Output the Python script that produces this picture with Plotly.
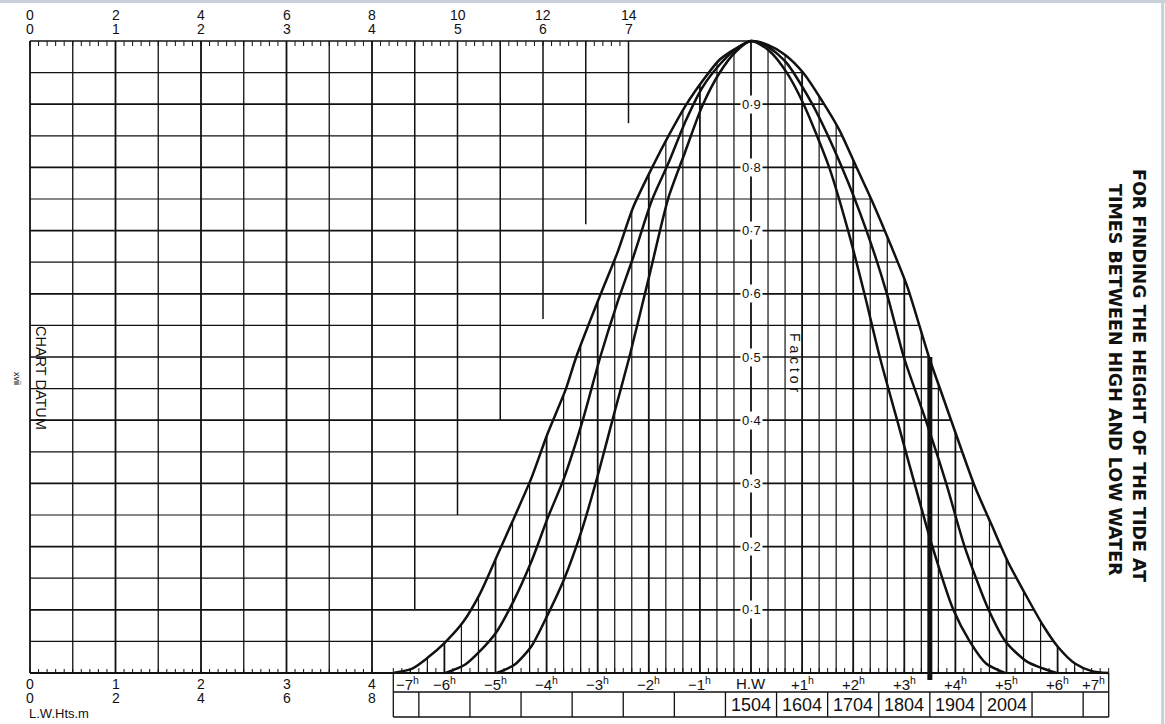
import numpy as np
import plotly.graph_objects as go

# ---------------- data ----------------
HW_HTS_ROW1 = [0, 2, 4, 6, 8, 10, 12, 14]
HW_HTS_ROW2 = [0, 1, 2, 3, 4, 5, 6, 7]
LW_HTS_ROW1 = [0, 1, 2, 3, 4]
LW_HTS_ROW2 = [0, 2, 4, 6, 8]
HOURS = [-7, -6, -5, -4, -3, -2, -1, 0, 1, 2, 3, 4, 5, 6, 7]
HOUR_LABELS = ["−7<sup>h</sup>", "−6<sup>h</sup>", "−5<sup>h</sup>", "−4<sup>h</sup>",
               "−3<sup>h</sup>", "−2<sup>h</sup>", "−1<sup>h</sup>", "H.W",
               "+1<sup>h</sup>", "+2<sup>h</sup>", "+3<sup>h</sup>", "+4<sup>h</sup>",
               "+5<sup>h</sup>", "+6<sup>h</sup>", "+7<sup>h</sup>"]
FACTOR_LEVELS = [0.1, 0.2, 0.3, 0.4, 0.5, 0.6, 0.7, 0.8, 0.9]
FACTOR_LABELS = ["0·1", "0·2", "0·3", "0·4", "0·5", "0·6", "0·7", "0·8", "0·9"]
TABLE_HOURS = [0, 1, 2, 3, 4, 5]
TABLE_TIMES = ["1504", "1604", "1704", "1804", "1904", "2004"]

# partial height-scale lines (height unit, factor where the line stops)
STAIR_U = [4.5, 5.0, 5.5, 6.0, 6.5, 7.0]
STAIR_F = [0.10, 0.25, 0.40, 0.56, 0.71, 0.87]

# tidal curves: time from HW (hours) and factor
CURVE7_T = [-7.00, -6.63, -6.33, -5.98, -5.63, -5.30, -4.96, -4.64, -4.30, -3.98, -3.62,
            -3.42, -2.95, -2.62, -2.30, -1.94, -1.62, -1.27, -0.91, -0.62, -0.30, 0.00,
            0.33, 0.67, 1.03, 1.40, 1.73, 2.06, 2.39, 2.72, 3.06, 3.49, 3.72, 4.05,
            4.38, 4.71, 5.04, 5.38, 5.71, 6.00, 6.34, 6.67, 7.00]
CURVE7_F = [0.000, 0.007, 0.024, 0.049, 0.081, 0.126, 0.187, 0.245, 0.308, 0.379, 0.450,
            0.500, 0.598, 0.664, 0.738, 0.799, 0.849, 0.899, 0.941, 0.970, 0.988, 1.000,
            0.994, 0.978, 0.949, 0.904, 0.859, 0.801, 0.743, 0.680, 0.611, 0.498, 0.445,
            0.369, 0.295, 0.234, 0.174, 0.123, 0.076, 0.042, 0.015, 0.003, 0.000]

CURVE6_T = [-5.98, -5.60, -5.30, -4.98, -4.64, -4.30, -3.98, -3.66, -3.30, -2.95, -2.62,
            -2.30, -1.94, -1.62, -1.27, -0.94, -0.62, -0.36, 0.00, 0.35, 0.70, 1.20,
            1.78, 2.26, 2.66, 2.99, 3.42, 3.82, 4.18, 4.65, 4.98, 5.40, 5.98]
CURVE6_F = [0.000, 0.013, 0.035, 0.065, 0.115, 0.176, 0.245, 0.308, 0.398, 0.500, 0.585,
            0.659, 0.748, 0.806, 0.875, 0.928, 0.962, 0.983, 1.000, 0.990, 0.965, 0.900,
            0.800, 0.700, 0.600, 0.500, 0.400, 0.300, 0.200, 0.100, 0.050, 0.018, 0.000]

CURVE5_T = [-4.98, -4.63, -4.30, -3.98, -3.66, -3.30, -2.98, -2.66, -2.38, -1.98, -1.62,
            -1.30, -0.96, -0.62, -0.30, 0.00, 0.35, 0.70, 1.03, 1.53, 1.90, 2.22, 2.52,
            2.86, 3.20, 3.55, 3.96, 4.28, 4.60, 4.97]
CURVE5_F = [0.000, 0.013, 0.042, 0.092, 0.148, 0.229, 0.318, 0.416, 0.500, 0.632, 0.751,
            0.822, 0.896, 0.949, 0.983, 1.000, 0.985, 0.950, 0.900, 0.800, 0.700, 0.600,
            0.500, 0.400, 0.300, 0.200, 0.100, 0.050, 0.015, 0.000]

MARK_T = 3.5
MARK_F = 0.5

# ---------------- layout geometry ----------------
FIG_W, FIG_H = 1165, 724
U_ORIGIN_PX, U_UNIT_PX = 30.0, 85.5      # height scale
T_ORIGIN_PX, T_UNIT_PX = 751.0, 51.1     # time scale
F0_PX, F1_PX = 673.0, 41.0               # factor scale


def fy(px):
    return (F0_PX - px) / (F0_PX - F1_PX)


def u2t(u):
    return (U_ORIGIN_PX + u * U_UNIT_PX - T_ORIGIN_PX) / T_UNIT_PX


def px2t(px):
    return (px - T_ORIGIN_PX) / T_UNIT_PX


INK = "#111111"
FONT = "Liberation Sans, Arial, Helvetica, sans-serif"
TITLE_FONT = "DejaVu Sans, Liberation Sans, Arial, sans-serif"


def seg_trace(segs, axis, width, color=INK):
    xs, ys = [], []
    for (x0, x1), (y0, y1) in segs:
        xs += [x0, x1, None]
        ys += [y0, y1, None]
    return go.Scatter(x=xs, y=ys, xaxis=axis, yaxis="y", mode="lines",
                      line=dict(color=color, width=width),
                      hoverinfo="skip", showlegend=False)


fig = go.Figure()

# right side of outer curve (for the end of horizontal lines)
i0 = CURVE7_T.index(0.0)
tr = np.array(CURVE7_T[i0:])
fr = np.array(CURVE7_F[i0:])


def t_right(f):
    return float(np.interp(f, fr[::-1], tr[::-1]))


# horizontal factor lines
major_h, minor_h = [], []
for k in range(1, 21):
    f = round(k * 0.05, 2)
    seg = ((u2t(0), t_right(f)), (f, f))
    (major_h if k % 2 == 0 else minor_h).append(seg)
fig.add_trace(seg_trace(minor_h, "x2", 1.2))
fig.add_trace(seg_trace(major_h, "x2", 1.7))
fig.add_trace(seg_trace([((u2t(0), 7), (0, 0))], "x2", 1.9))

# height-scale verticals
full_major, full_minor = [], []
for k in range(0, 9):
    u = k * 0.5
    seg = ((u, u), (0, 1))
    (full_major if k % 2 == 0 else full_minor).append(seg)
fig.add_trace(seg_trace(full_minor, "x", 1.3))
fig.add_trace(seg_trace(full_major, "x", 1.8))
stair = [((u, u), (fe, 1)) for u, fe in zip(STAIR_U, STAIR_F)]
fig.add_trace(seg_trace(stair, "x", 1.5))

# ticks on height scales
top_ticks = [((k / 10, k / 10), (1, 1 - 5 / (F0_PX - F1_PX))) for k in range(0, 71)]
bot_ticks = [((k / 10, k / 10), (0, 4 / (F0_PX - F1_PX))) for k in range(0, 41)]
fig.add_trace(seg_trace(top_ticks, "x", 1.0))
fig.add_trace(seg_trace(bot_ticks, "x", 1.0))

# time verticals (every 20 min) up to outer curve
t_major, t_minor = [], []
for k in range(0, 43):
    t = -7 + k / 3
    fe = float(np.interp(t, CURVE7_T, CURVE7_F))
    seg = ((t, t), (0, fe))
    (t_major if k % 3 == 0 else t_minor).append(seg)
fig.add_trace(seg_trace(t_minor, "x2", 1.2))
fig.add_trace(seg_trace(t_major, "x2", 1.8))
time_ticks = [((-7 + k / 6, -7 + k / 6), (0, 5 / (F0_PX - F1_PX))) for k in range(0, 85)]
fig.add_trace(seg_trace(time_ticks, "x2", 1.0))

# table under the time axis
row_top, row_bot = fy(692), fy(717)
table = [((-7, 7), (row_top, row_top)), ((-7, 7), (row_bot, row_bot)),
         ((-7, -7), (0, row_bot)), ((7, 7), (0, row_bot))]
table += [((h + 0.5, h + 0.5), (row_top, row_bot)) for h in HOURS[:-1]]
fig.add_trace(seg_trace(table, "x2", 1.3))

# curves
for ct, cf in ((CURVE7_T, CURVE7_F), (CURVE6_T, CURVE6_F), (CURVE5_T, CURVE5_F)):
    fig.add_trace(go.Scatter(x=ct, y=cf, xaxis="x2", yaxis="y", mode="lines",
                             line=dict(color=INK, width=2.5, shape="spline", smoothing=0.7),
                             hoverinfo="skip", showlegend=False))

# thick marker bar
fig.add_trace(seg_trace([((MARK_T, MARK_T), (fy(680), MARK_F))], "x2", 5))

# ---------------- text ----------------
ann = []


def label(x, y, text, size, **kw):
    d = dict(x=x, y=y, xref="x2", yref="y", text=text, showarrow=False,
             font=dict(size=size, color=INK, family=kw.pop("family", FONT)))
    d.update(kw)
    ann.append(d)


for a, b in zip(HW_HTS_ROW1, HW_HTS_ROW2):
    label(u2t(b), fy(15), str(a), 14)
    label(u2t(b), fy(29), str(b), 14)
for a, b in zip(LW_HTS_ROW1, LW_HTS_ROW2):
    label(u2t(a), fy(684), str(a), 14)
    label(u2t(a), fy(698), str(b), 14)
label(u2t(-0.04), fy(713), "L.W.Hts.m", 13, xanchor="left")
label(u2t(0), fy(-3), "H.W.Hts.m", 13, xanchor="left")

for h, lab in zip(HOURS, HOUR_LABELS):
    anchor, xs = "center", 0
    if h == HOURS[0]:
        anchor, xs = "left", 1
    elif h == HOURS[-1]:
        anchor, xs = "right", -2
    label(h, fy(683), lab, 15, xanchor=anchor, xshift=xs)
for h, txt in zip(TABLE_HOURS, TABLE_TIMES):
    label(h, fy(705), txt, 18)

for f, lab in zip(FACTOR_LEVELS, FACTOR_LABELS):
    label(0, f, lab, 13, bgcolor="white", borderpad=1)

label(px2t(795), fy(362), "F a c t o r", 14, textangle=90)
label(u2t((41 - U_ORIGIN_PX) / U_UNIT_PX), fy(378), "CHART DATUM", 14.5, textangle=90)
label(u2t((17 - U_ORIGIN_PX) / U_UNIT_PX), fy(378), "xvii", 9, textangle=90)
label(px2t(1139), fy(375), "<b>FOR FINDING THE HEIGHT OF THE TIDE AT</b>", 17.5,
      textangle=90, family=TITLE_FONT)
label(px2t(1115), fy(380), "<b>TIMES BETWEEN HIGH AND LOW WATER</b>", 17.5,
      textangle=90, family=TITLE_FONT)

fig.update_layout(
    width=FIG_W, height=FIG_H,
    margin=dict(l=0, r=0, t=0, b=0),
    paper_bgcolor="white", plot_bgcolor="white",
    showlegend=False,
    xaxis=dict(domain=[0, 1], range=[-U_ORIGIN_PX / U_UNIT_PX, (FIG_W - U_ORIGIN_PX) / U_UNIT_PX],
               visible=False, fixedrange=True),
    xaxis2=dict(range=[-T_ORIGIN_PX / T_UNIT_PX, (FIG_W - T_ORIGIN_PX) / T_UNIT_PX],
                overlaying="x", anchor="y", visible=False, fixedrange=True),
    yaxis=dict(domain=[0, 1], range=[fy(FIG_H), fy(0)], visible=False, fixedrange=True),
    annotations=ann,
    shapes=[
        dict(type="line", xref="paper", yref="paper", x0=0, x1=1, y0=0.998, y1=0.998,
             line=dict(color="#c9d0da", width=3)),
        dict(type="line", xref="paper", yref="paper", x0=0.998, x1=0.998, y0=0, y1=1,
             line=dict(color="#c9d0da", width=3)),
    ],
)

fig.write_html("out.html", config={"displayModeBar": False},
               post_script="document.body.style.margin='0px';document.body.style.overflow='hidden';")
